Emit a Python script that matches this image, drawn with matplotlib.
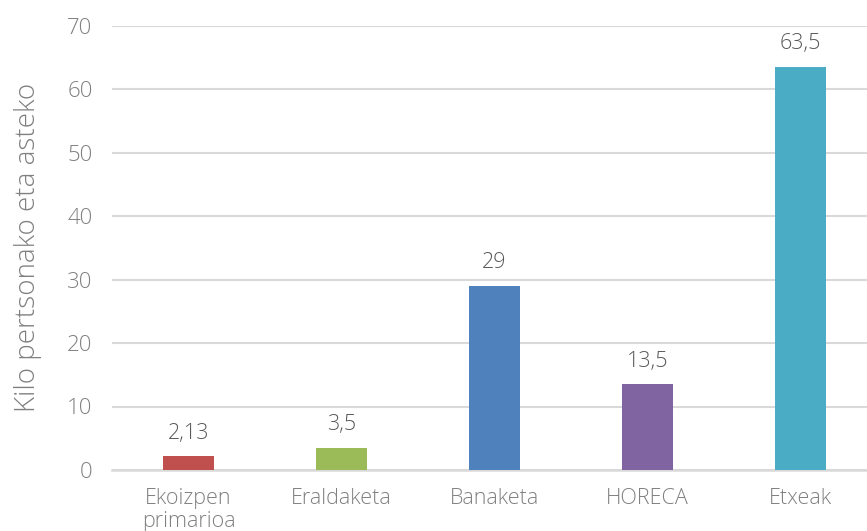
import matplotlib
matplotlib.use("Agg")
import matplotlib.pyplot as plt

# Datuak
categories = ["Ekoizpen\nprimarioa", "Eraldaketa", "Banaketa", "HORECA", "Etxeak"]
values = [2.13, 3.5, 29, 13.5, 63.5]
value_labels = ["2,13", "3,5", "29", "13,5", "63,5"]
colors = ["#C0504D", "#9BBB59", "#4F81BD", "#8064A2", "#4BACC6"]
yticks = [0, 10, 20, 30, 40, 50, 60, 70]

plt.rcParams['font.family'] = ['Open Sans', 'DejaVu Sans']
text_color = "#808080"
W = 'light'

fig = plt.figure(figsize=(8.67, 5.31), dpi=100)
ax = fig.add_axes([112 / 867, 61 / 531, 765 / 867, 444.5 / 531])

x = list(range(len(categories)))
ax.bar(x, values, width=0.33, color=colors, zorder=3)

for xi, v, lab in zip(x, values, value_labels):
    ax.text(xi, v + 2.0, lab, ha='center', va='bottom', fontsize=15.5,
            color="#595959", fontweight=W)

ax.set_xlim(-0.5, len(categories) - 0.5)
ax.set_ylim(0, 70)
ax.set_yticks(yticks)
ax.set_yticklabels([str(t) for t in yticks], fontsize=16, color=text_color, fontweight=W)
ax.set_xticks(x)
ax.set_xticklabels(categories, fontsize=15.5, color=text_color, fontweight=W, linespacing=1.1)
ax.tick_params(axis='both', length=0)
ax.tick_params(axis='x', pad=13)
ax.tick_params(axis='y', pad=14)

ax.yaxis.grid(True, color="#d9d9d9", linewidth=1.5, zorder=0)
for s in ['top', 'right', 'left']:
    ax.spines[s].set_visible(False)
ax.spines['bottom'].set_color("#d9d9d9")
ax.spines['bottom'].set_linewidth(1.8)

ax.set_ylabel("Kilo pertsonako eta asteko", fontsize=20, color=text_color,
              fontweight=W, labelpad=18)

fig.savefig("out.png", dpi=100)
